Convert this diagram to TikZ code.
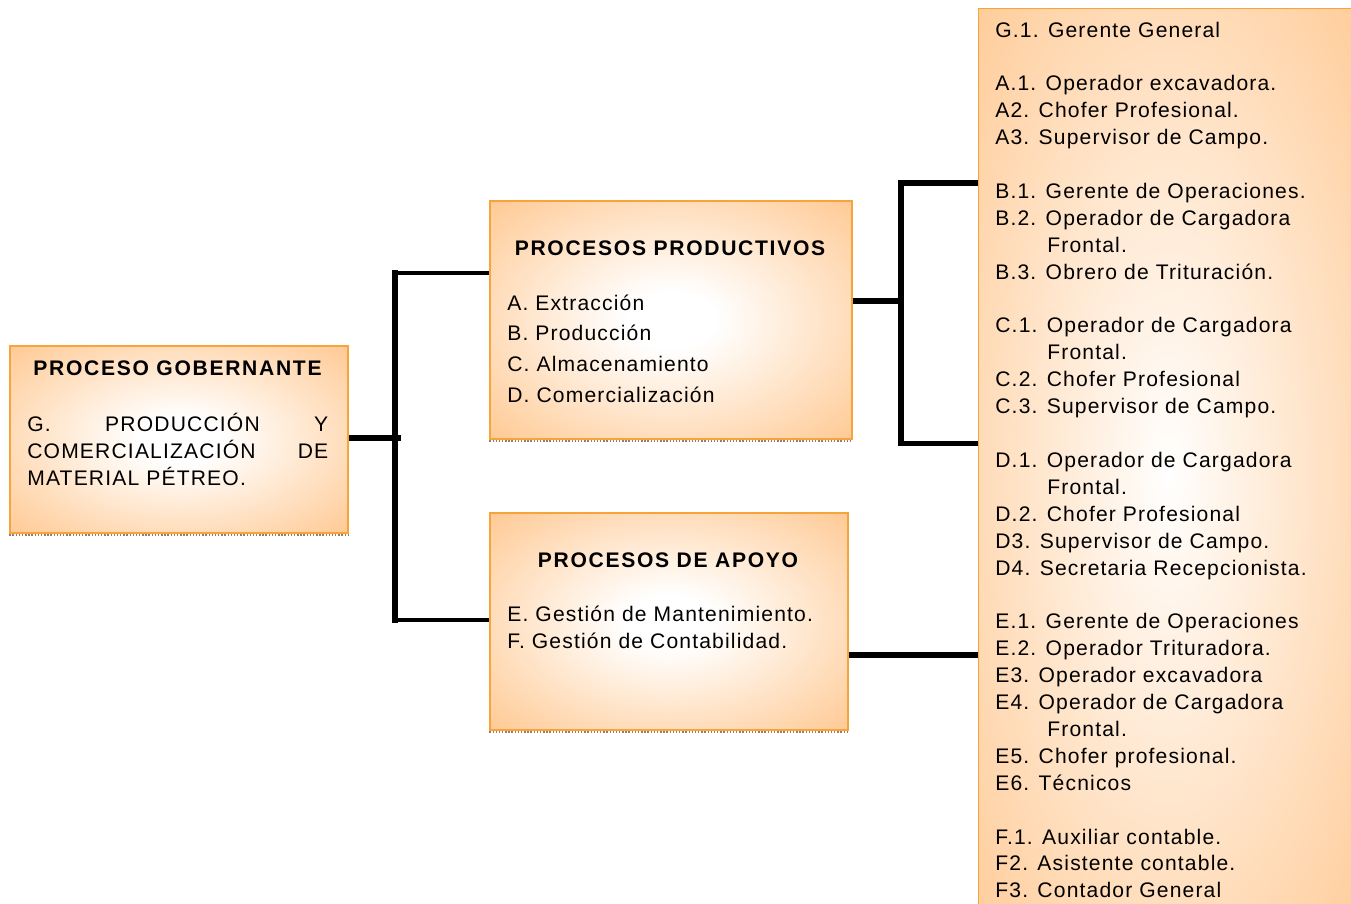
\documentclass[tikz,border=0pt]{standalone}
\usepackage{fontspec}
\setmainfont{Liberation Sans}[LetterSpace=5.5, BoldFeatures={LetterSpace=8}]
\usetikzlibrary{positioning}
\definecolor{peach}{HTML}{FFCC99}
\definecolor{rim}{HTML}{F7A43B}
\definecolor{shadowbrown}{HTML}{9C7A66}
\pgfdeclareradialshading{glow}{\pgfpoint{0bp}{0bp}}{color(0bp)=(white); color(6bp)=(white); color(34bp)=(peach); color(50bp)=(peach)}
\pgfdeclareradialshading{softglow}{\pgfpoint{0bp}{0bp}}{color(0bp)=(white); color(5bp)=(peach!15!white); color(36bp)=(peach); color(50bp)=(peach)}
\tikzset{
  procbox/.style={draw=rim, line width=0.8pt, shade, shading=glow, inner sep=0pt},
  listbox/.style={draw=rim, line width=0.8pt, shade, shading=softglow, inner sep=0pt},
  boxtitle/.style={font=\fontsize{12pt}{15pt}\selectfont\bfseries, anchor=base, inner sep=0pt},
  boxitem/.style={font=\fontsize{12pt}{15pt}\selectfont, anchor=base west, inner sep=0pt},
  boldbar/.style={line width=3.4pt},
  slimbar/.style={line width=1.8pt},
  shadowline/.style={draw=shadowbrown, densely dotted, line width=0.8pt}
}

\begin{document}
\begin{tikzpicture}[x=0.02cm, y=-0.02cm]
  \useasboundingbox (0,0) rectangle (1351,903);
  % process boxes
  \node[procbox, minimum width=6.76cm, minimum height=3.74cm] (gob) at (179,439.5) {};
  \node[procbox, minimum width=7.24cm, minimum height=4.76cm] (prod) at (671,320) {};
  \node[procbox, minimum width=7.16cm, minimum height=4.34cm] (apoyo) at (669,621.5) {};
  \node[listbox, minimum width=7.6cm, minimum height=18.6cm, anchor=north west] (staff) at (978,8) {};
  \foreach \b in {gob,prod,apoyo}
    \draw[shadowline] ([yshift=-0.03cm]\b.south west) -- ([yshift=-0.03cm]\b.south east);

  % governing process
  \node[boxtitle] (gobtitle) at (177.5,375.5) {PROCESO GOBERNANTE};
  \node[boxitem] (gob-0) at (27,431) {\hbox to 6.02cm{G.\hfill PRODUCCIÓN\hfill Y}};
  \node[boxitem] (gob-1) at (27,458) {\hbox to 6.02cm{COMERCIALIZACIÓN\hfill DE}};
  \node[boxitem] (gob-2) at (27,485) {MATERIAL PÉTREO.};

  % productive processes
  \node[boxtitle] (prodtitle) at (670,255.5) {PROCESOS PRODUCTIVOS};
  \foreach \entry [count=\i from 0] in {A. Extracción, B. Producción, C. Almacenamiento, D. Comercialización}
    \node[boxitem] (prod-\i) at (507,{310+30.7*\i}) {\entry};

  % support processes
  \node[boxtitle] (apoyotitle) at (668,567.5) {PROCESOS DE APOYO};
  \node[boxitem] (apoyo-0) at (507,621.5) {E. Gestión de Mantenimiento.};
  \node[boxitem] (apoyo-1) at (507,648.5) {F. Gestión de Contabilidad.};

  % staff list
  \foreach \n/\entry in {0/G.1. Gerente General,
      2/A.1. Operador excavadora., 3/A2. Chofer Profesional., 4/A3. Supervisor de Campo.,
      6/B.1. Gerente de Operaciones., 7/B.2. Operador de Cargadora, 8/\hspace*{1.04cm}Frontal., 9/B.3. Obrero de Trituración.,
      11/C.1. Operador de Cargadora, 12/\hspace*{1.04cm}Frontal., 13/C.2. Chofer Profesional, 14/C.3. Supervisor de Campo.,
      16/D.1. Operador de Cargadora, 17/\hspace*{1.04cm}Frontal., 18/D.2. Chofer Profesional, 19/D3. Supervisor de Campo., 20/D4. Secretaria Recepcionista.,
      22/E.1. Gerente de Operaciones, 23/E.2. Operador Trituradora., 24/E3. Operador excavadora, 25/E4. Operador de Cargadora, 26/\hspace*{1.04cm}Frontal., 27/E5. Chofer profesional., 28/E6. Técnicos,
      30/F.1. Auxiliar contable., 31/F2. Asistente contable., 32/F3. Contador General}
    \node[boxitem] (staff-\n) at (995,{37+26.9*\n}) {\entry};

  % connectors
  \coordinate (lefttop) at (395,273);
  \coordinate (leftbot) at (395,620);
  \coordinate (righttop) at (901,183);
  \coordinate (rightbot) at (901,443.5);
  \draw[boldbar] ([yshift=0.03cm]gob.east) -- ([yshift=0.03cm,xshift=0.12cm]gob.east -| lefttop);
  \draw[boldbar, line cap=rect] (lefttop) -- (leftbot);
  \draw[slimbar] (lefttop) -- (lefttop -| prod.west);
  \draw[slimbar] (leftbot) -- (leftbot -| apoyo.west);
  \draw[boldbar] ([yshift=0.38cm]prod.east) -- ([yshift=0.38cm]prod.east -| righttop);
  \draw[boldbar, line cap=rect] (righttop) -- (rightbot);
  \draw[boldbar] (righttop) -- (righttop -| staff.west);
  \draw[boldbar] (rightbot) -- (rightbot -| staff.west);
  \draw[boldbar] ([yshift=-0.67cm]apoyo.east) -- ([yshift=-0.67cm]apoyo.east -| staff.west);
\end{tikzpicture}
\end{document}
